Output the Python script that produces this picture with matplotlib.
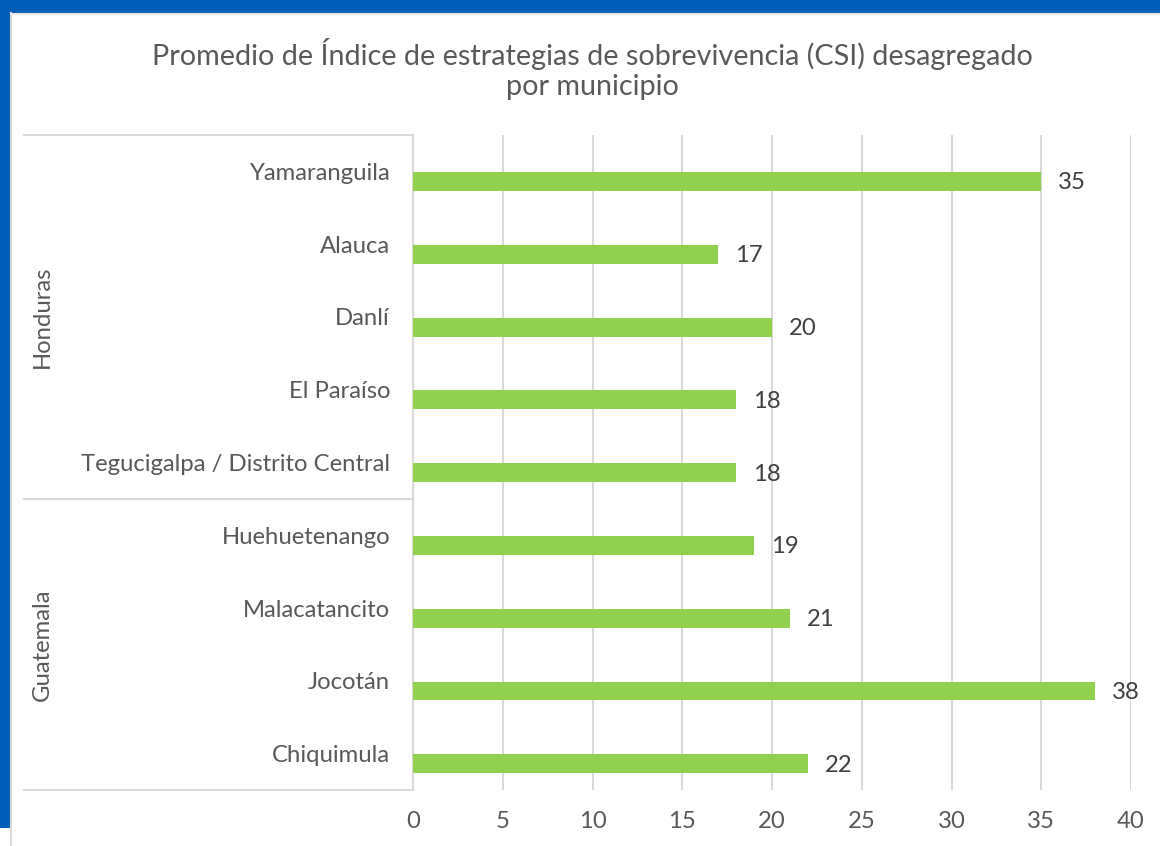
import matplotlib.pyplot as plt
import matplotlib.transforms as mtransforms
from matplotlib.patches import Rectangle
from matplotlib.lines import Line2D

plt.rcParams['font.family'] = ['Lato', 'DejaVu Sans']

# -------------------------------------------------
# Data
# -------------------------------------------------
municipios = ["Yamaranguila", "Alauca", "Danlí", "El Paraíso",
              "Tegucigalpa / Distrito Central",
              "Huehuetenango", "Malacatancito", "Jocotán", "Chiquimula"]
paises = ["Honduras", "Honduras", "Honduras", "Honduras", "Honduras",
          "Guatemala", "Guatemala", "Guatemala", "Guatemala"]
csi = [35, 17, 20, 18, 18, 19, 21, 38, 22]
x_ticks = [0, 5, 10, 15, 20, 25, 30, 35, 40]

TEXT = "#595959"
GRID = "#D9D9D9"
GREEN = "#92D050"
BLUE = "#005EB8"
FS = 17.2

W, H = 1160, 846
fig = plt.figure(figsize=(W / 100, H / 100), dpi=100)

# frame (blue band top and left)
fig.add_artist(Rectangle((0, 1 - 13 / H), 1, 13 / H, transform=fig.transFigure,
                         color=BLUE, lw=0))
fig.add_artist(Rectangle((0, 1 - 828 / H), 10 / W, 828 / H, transform=fig.transFigure,
                         color=BLUE, lw=0))
fig.add_artist(Line2D([11 / W, 11 / W], [0, 1 - 13 / H], transform=fig.transFigure,
                      color=GRID, lw=1.5))
fig.add_artist(Line2D([11 / W, 1], [1 - 14 / H, 1 - 14 / H], transform=fig.transFigure,
                      color="#E8E8E8", lw=1.5))

# -------------------------------------------------
# Axes
# -------------------------------------------------
left, right, top, bottom = 413, 1131, 135, 790
ax = fig.add_axes([left / W, 1 - bottom / H, (right - left) / W, (bottom - top) / H])

pos = list(range(len(municipios)))
# bars sit slightly below the category centre (second slot of a cluster)
bar_h = 0.26
bar_pos = [p + 0.01 for p in pos]
ax.barh(bar_pos, csi, height=bar_h, align="edge", color=GREEN, zorder=3)

for y, v in zip(bar_pos, csi):
    ax.annotate(str(v), (v, y + bar_h / 2), xytext=(12, -1), textcoords="offset points",
                ha="left", va="center", fontsize=FS, color="#404040")

ax.set_xlim(0, 40)
ax.set_ylim(len(municipios) - 0.5, -0.5)
ax.set_xticks(x_ticks)
ax.set_yticks(pos)
ax.set_yticklabels(municipios)
ax.xaxis.grid(True, color=GRID, lw=1.5, zorder=0)
ax.tick_params(axis="both", length=0, labelsize=FS, labelcolor=TEXT)
ax.tick_params(axis="y", pad=16.5)
ax.tick_params(axis="x", pad=15)
for side in ["top", "right", "bottom"]:
    ax.spines[side].set_visible(False)
ax.spines["left"].set_color(GRID)
ax.spines["left"].set_linewidth(1.5)

# -------------------------------------------------
# Country groups
# -------------------------------------------------
trans = mtransforms.blended_transform_factory(fig.transFigure, ax.transData)
x0, x1 = 24 / W, left / W
bounds = [-0.5]
for i in range(1, len(paises)):
    if paises[i] != paises[i - 1]:
        bounds.append(i - 0.5)
bounds.append(len(paises) - 0.5)
for b in bounds:
    fig.add_artist(Line2D([x0, x1], [b, b], transform=trans, color=GRID, lw=1.5))

for a, b in zip(bounds[:-1], bounds[1:]):
    name = paises[int(a + 0.5)]
    fig.text(42 / W, (a + b) / 2, name, transform=trans, rotation=90,
             ha="center", va="center", fontsize=FS, color=TEXT)

fig.text(0.5 * (W + 25) / W, 1 - 69 / H,
         "Promedio de Índice de estrategias de sobrevivencia (CSI) desagregado\npor municipio",
         ha="center", va="center", fontsize=20.7, color=TEXT, linespacing=1.15)

fig.savefig("out.png", dpi=100)
